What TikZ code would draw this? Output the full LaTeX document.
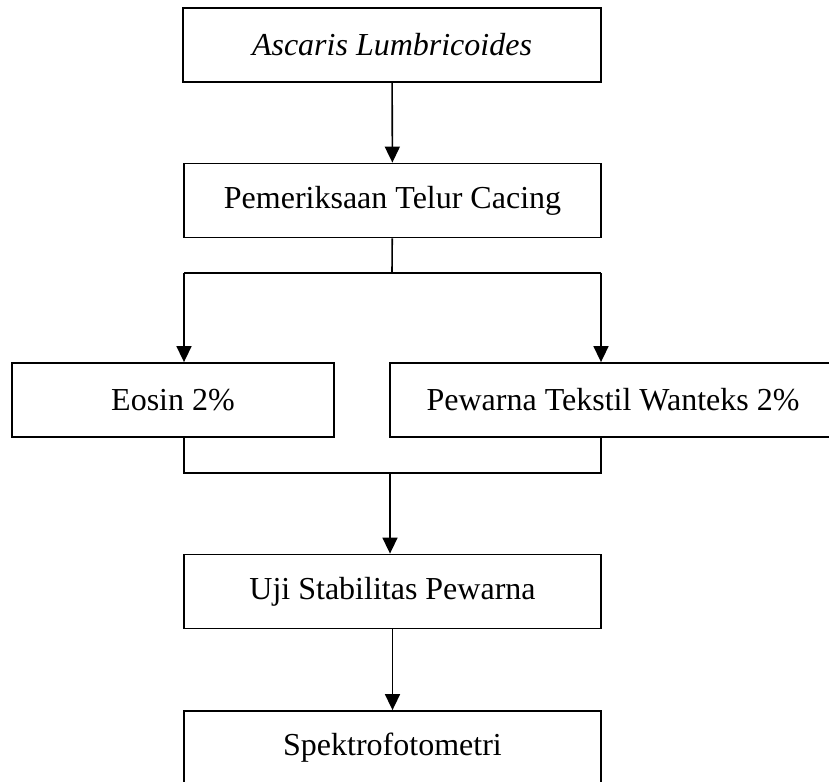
\documentclass[tikz,border=0pt]{standalone}
\usepackage{fontspec}
\setmainfont{Liberation Serif}
\usetikzlibrary{arrows.meta}
\begin{document}
\begin{tikzpicture}[x=1pt,y=-1pt,
  box/.style={draw,line width=1.8pt,minimum height=74pt,inner sep=0pt,font=\fontsize{32}{38}\selectfont},
  conn/.style={line width=1.6pt},
  arr/.style={conn,-{Triangle[length=16pt,width=15pt]}}]
\clip (0,0) rectangle (829,781);
\fill[white] (0,0) rectangle (829,781);
\node[box,minimum width=418pt] (a) at (392,45) {\itshape Ascaris Lumbricoides};
\node[box,minimum width=417pt] (b) at (392.5,200.5) {Pemeriksaan Telur Cacing};
\node[box,minimum width=322pt] (c) at (173,400) {Eosin 2\%};
\node[box,minimum width=446pt] (d) at (613,400) {Pewarna Tekstil Wanteks 2\%};
\node[box,minimum width=417pt] (e) at (392.5,591.5) {Uji Stabilitas Pewarna};
\node[box,minimum width=417pt] (f) at (392.5,748) {Spektrofotometri};
\coordinate (s) at (392,273);
\coordinate (sl) at (184,273);
\coordinate (sr) at (601,273);
\coordinate (m) at (390,473);
\coordinate (ml) at (184,473);
\coordinate (mr) at (601,473);
\draw[arr] (a) -- (b);
\draw[conn] (b) -- (s);
\draw[conn] (sl) -- (sr);
\draw[arr] (sl) -- (sl |- c.north);
\draw[arr] (sr) -- (sr |- d.north);
\draw[conn] (ml |- c.south) -- (ml) -- (mr) -- (mr |- d.south);
\draw[arr] (m) -- (m |- e.north);
\draw[arr] (e) -- (f);
\end{tikzpicture}
\end{document}
